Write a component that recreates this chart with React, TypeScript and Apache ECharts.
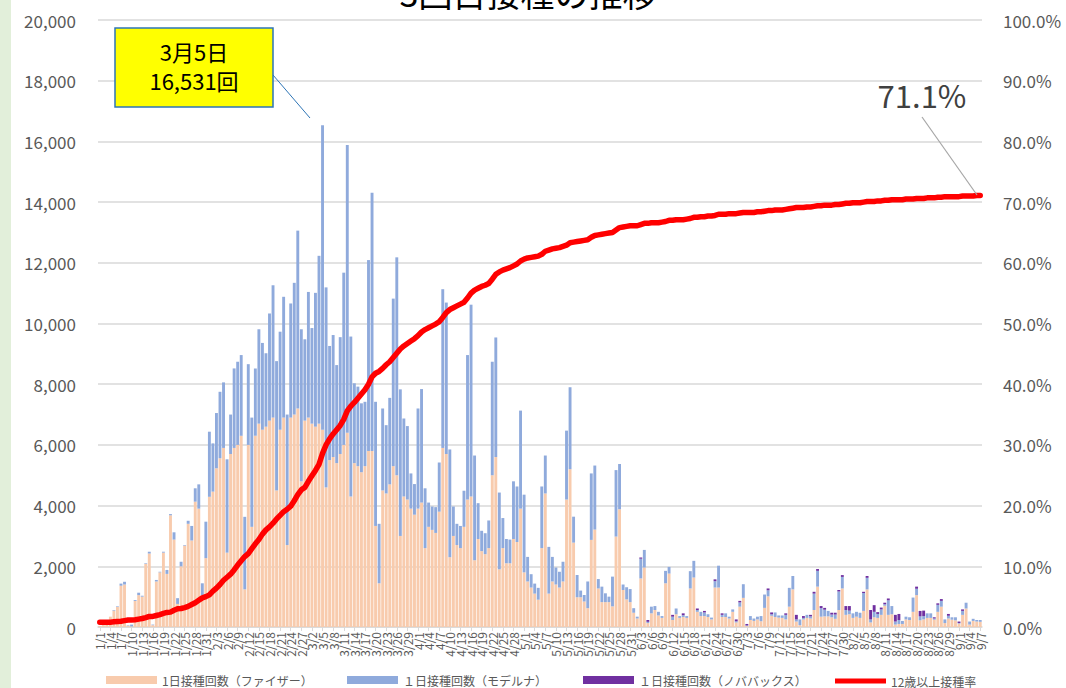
import React, { useEffect, useRef } from "react";
import * as echarts from "echarts";

const FONT = '"Noto Sans CJK JP", "Noto Sans", sans-serif';

// Month lengths from 1/1 to 9/7
const MONTH_DAYS = [31, 28, 31, 30, 31, 30, 31, 31, 7];
const categories: string[] = [];
MONTH_DAYS.forEach((n, m) => {
  for (let d = 1; d <= n; d++) categories.push(`${m + 1}/${d}`);
});

const SERIES_NAMES = [
  "1日接種回数（ファイザー）",
  "１日接種回数（モデルナ）",
  "１日接種回数（ノババックス）",
  "12歳以上接種率",
];

const pfizer = [
  30, 60, 150, 340, 540, 660, 1360, 1400, 40, 20,
  860, 1050, 1000, 2080, 2420, 60, 1500, 1800, 2450, 1750,
  3680, 2880, 760, 2000, 2680, 3400, 2850, 4130, 3900, 1050,
  2270, 4290, 4460, 5230, 5560, 5900, 2450, 5700, 5900, 6000,
  6300, 1240, 6000, 3300, 6300, 6700, 6500, 6600, 6800, 6900,
  4500, 6500, 6900, 2700, 6900, 7000, 7200, 4800, 6800, 6900,
  6700, 6600, 6700, 6500, 4600, 5500, 5600, 5400, 5700, 6000,
  6400, 4300, 5400, 5300, 5100, 5300, 5800, 5800, 3330, 1440,
  4500, 4400, 4700, 5300, 5000, 3000, 4300, 4200, 3900, 3700,
  3900, 4100, 2600, 3300, 3200, 3100, 3800, 5900, 5700, 2300,
  3000, 2700, 2600, 3300, 4200, 4300, 2200, 2900, 2500, 2400,
  2600, 5000, 5600, 1900, 2600, 2100, 2100, 2900, 2800, 3900,
  1800, 1500, 1300, 1100, 900, 2600, 4400, 1100, 1500, 1400,
  1300, 1500, 4200, 5200, 2780, 980, 980, 840, 620, 2870,
  3210, 1270, 820, 820, 820, 680, 2980, 3880, 1220, 910,
  820, 470, 280, 1600, 1960, 130, 450, 560, 380, 300,
  1440, 1760, 230, 420, 300, 330, 300, 1270, 1630, 500,
  360, 360, 330, 250, 1300, 1300, 330, 330, 280, 500,
  150, 670, 960, 30, 230, 200, 250, 190, 630, 1010,
  370, 330, 310, 300, 250, 670, 1240, 180, 60, 250,
  300, 280, 560, 1330, 340, 350, 350, 320, 270, 560,
  1270, 400, 420, 300, 340, 300, 530, 1240, 150, 320,
  300, 400, 700, 400, 420, 80, 100, 100, 250, 230,
  500, 1050, 220, 250, 300, 300, 240, 500, 670, 130,
  280, 240, 220, 110, 400, 610, 80, 200, 180, 170,
];

const moderna = [
  0, 0, 0, 0, 20, 20, 70, 90, 20, 60,
  30, 80, 30, 20, 60, 20, 50, 20, 30, 130,
  40, 240, 190, 150, 20, 100, 480, 440, 800, 390,
  1200, 2145, 1590, 1820, 2190, 2160, 3075, 1300, 2620, 2740,
  2660, 2390, 2660, 3600, 2220, 3110, 2860, 2420, 3530, 4360,
  4260, 3230, 3980, 4300, 3760, 4340, 5860, 5010, 2680, 4140,
  3150, 4410, 5530, 10031, 6590, 3760, 4020, 3230, 3850, 5675,
  9480, 5270, 2630, 2620, 2270, 2120, 6290, 8510, 4090, 1960,
  2700, 2250, 2850, 5520, 7180, 4830, 2570, 2420, 1160, 1010,
  3300, 3740, 1970, 800, 770, 850, 1620, 5230, 4990, 3550,
  970, 700, 730, 1190, 4760, 6320, 3450, 1180, 670, 690,
  910, 3740, 3940, 2530, 990, 800, 780, 1900, 1830, 3230,
  2560, 810, 440, 330, 390, 2030, 1250, 1540, 810, 560,
  520, 650, 2270, 2700, 855, 733, 220, 215, 880, 2190,
  2110, 310, 510, 290, 180, 980, 2190, 1490, 180, 400,
  430, 150, 60, 650, 580, 40, 220, 130, 120, 60,
  410, 220, 110, 190, 60, 60, 60, 570, 550, 60,
  140, 120, 90, 60, 210, 720, 70, 120, 60, 80,
  40, 140, 450, 20, 130, 80, 90, 170, 440, 200,
  50, 150, 70, 80, 150, 620, 440, 70, 190, 50,
  100, 70, 540, 520, 280, 220, 180, 90, 140, 610,
  380, 160, 120, 150, 160, 170, 590, 380, 100, 180,
  130, 180, 50, 480, 270, 100, 130, 100, 90, 90,
  470, 210, 130, 110, 150, 150, 40, 230, 190, 120,
  90, 80, 100, 20, 130, 190, 100, 70, 50, 60,
];

const novavax = [
  0, 0, 0, 0, 0, 0, 0, 0, 0, 0,
  0, 0, 0, 0, 0, 0, 0, 0, 0, 0,
  0, 0, 0, 0, 0, 0, 0, 0, 0, 0,
  0, 0, 0, 0, 0, 0, 0, 0, 0, 0,
  0, 0, 0, 0, 0, 0, 0, 0, 0, 0,
  0, 0, 0, 0, 0, 0, 0, 0, 0, 0,
  0, 0, 0, 0, 0, 0, 0, 0, 0, 0,
  0, 0, 0, 0, 0, 0, 0, 0, 0, 0,
  0, 0, 0, 0, 0, 0, 0, 0, 0, 0,
  0, 0, 0, 0, 0, 0, 0, 0, 0, 0,
  0, 0, 0, 0, 0, 0, 0, 0, 0, 0,
  0, 0, 0, 0, 0, 0, 0, 0, 0, 0,
  0, 0, 0, 0, 0, 0, 0, 0, 0, 0,
  0, 0, 0, 0, 0, 0, 0, 0, 0, 0,
  0, 0, 0, 0, 0, 0, 0, 0, 0, 0,
  0, 0, 0, 40, 0, 60, 0, 0, 0, 0,
  0, 0, 60, 0, 0, 60, 0, 0, 0, 50,
  0, 50, 0, 0, 60, 0, 50, 0, 0, 0,
  60, 50, 0, 50, 0, 0, 0, 0, 0, 60,
  60, 0, 0, 0, 50, 0, 0, 150, 0, 60,
  0, 50, 60, 60, 70, 60, 0, 60, 60, 50,
  60, 130, 150, 0, 0, 0, 40, 60, 310, 220,
  60, 60, 50, 60, 0, 220, 200, 0, 0, 0,
  0, 70, 180, 180, 0, 0, 40, 50, 60, 0,
  60, 0, 0, 50, 50, 0, 0, 0, 0, 0,
];

// cumulative 3rd-dose rate, % of population aged 12+
const rate = [
  0.8, 0.8, 0.8, 0.8, 0.85, 0.9, 0.95, 1.05, 1.15, 1.15,
  1.2, 1.3, 1.4, 1.55, 1.75, 1.75, 1.9, 2.05, 2.25, 2.4,
  2.45, 2.75, 3.0, 3.05, 3.2, 3.4, 3.7, 4.0, 4.4, 4.8,
  5.0, 5.3, 5.9, 6.4, 7.0, 7.7, 8.2, 8.7, 9.4, 10.2,
  10.9, 11.6, 12.1, 12.9, 13.7, 14.4, 15.3, 16.0, 16.5, 17.1,
  17.8, 18.4, 19.0, 19.4, 19.9, 20.8, 21.8, 22.6, 23.0, 24.0,
  24.9, 25.8, 26.8, 28.6, 30.0, 31.0, 31.8, 32.5, 33.2, 34.2,
  35.6, 36.4, 37.0, 37.7, 38.4, 39.1, 40.0, 41.2, 41.8, 42.1,
  42.6, 43.2, 43.7, 44.4, 45.1, 45.8, 46.3, 46.7, 47.1, 47.5,
  48.0, 48.6, 49.0, 49.3, 49.6, 49.9, 50.3, 51.0, 51.8, 52.3,
  52.6, 52.9, 53.2, 53.5, 54.2, 55.0, 55.5, 55.8, 56.1, 56.3,
  56.6, 57.3, 58.1, 58.5, 58.8, 59.0, 59.2, 59.5, 59.8, 60.3,
  60.6, 60.8, 60.9, 61.0, 61.1, 61.4, 61.9, 62.1, 62.3, 62.4,
  62.5, 62.7, 62.9, 63.3, 63.4, 63.5, 63.6, 63.7, 63.8, 64.2,
  64.5, 64.6, 64.7, 64.8, 64.9, 65.0, 65.4, 65.8, 65.9, 66.0,
  66.1, 66.1, 66.1, 66.3, 66.5, 66.5, 66.6, 66.6, 66.6, 66.7,
  66.8, 67.0, 67.0, 67.1, 67.1, 67.1, 67.2, 67.3, 67.5, 67.5,
  67.6, 67.6, 67.7, 67.7, 67.8, 68.0, 68.0, 68.0, 68.1, 68.1,
  68.1, 68.2, 68.3, 68.3, 68.3, 68.3, 68.4, 68.4, 68.5, 68.6,
  68.6, 68.7, 68.7, 68.7, 68.8, 68.9, 69.0, 69.1, 69.1, 69.1,
  69.2, 69.2, 69.3, 69.4, 69.4, 69.5, 69.5, 69.5, 69.6, 69.6,
  69.7, 69.8, 69.8, 69.9, 69.9, 69.9, 70.0, 70.1, 70.1, 70.1,
  70.2, 70.2, 70.3, 70.3, 70.4, 70.4, 70.4, 70.4, 70.5, 70.5,
  70.5, 70.6, 70.6, 70.6, 70.7, 70.7, 70.7, 70.8, 70.8, 70.9,
  70.9, 70.9, 70.9, 70.9, 71.0, 71.0, 71.0, 71.0, 71.1, 71.1,
];

const COLORS = ["#f8cbad", "#8faadc", "#7030a0", "#ff0000"];
const LABEL_STEP = 3;

export default function App() {
  const ref = useRef<HTMLDivElement>(null);

  useEffect(() => {
    if (!ref.current) return;
    const chart = echarts.init(ref.current, undefined, { renderer: "svg" });

    const legendBase = {
      top: 674,
      padding: 0,
      itemGap: 0,
      itemWidth: 51,
      itemHeight: 8,
      icon: "rect",
      textStyle: { fontSize: 12, color: "#595959", fontFamily: FONT },
    };

    chart.setOption({
      animation: false,
      backgroundColor: "#ffffff",
      textStyle: { fontFamily: FONT },
      grid: { left: 98, right: 84, top: 20, bottom: 61, containLabel: false },
      legend: [
        { ...legendBase, left: 106, data: [SERIES_NAMES[0]] },
        { ...legendBase, left: 347, data: [SERIES_NAMES[1]] },
        { ...legendBase, left: 583, data: [SERIES_NAMES[2]] },
        { ...legendBase, left: 835, itemHeight: 5, top: 675, data: [SERIES_NAMES[3]] },
      ],
      xAxis: {
        type: "category",
        data: categories,
        axisLine: { lineStyle: { color: "#d9d9d9", width: 1.5 } },
        axisTick: {
          show: true,
          interval: LABEL_STEP - 1,
          length: 4,
          alignWithLabel: true,
          lineStyle: { color: "#d9d9d9" },
        },
        axisLabel: {
          interval: 0,
          rotate: 90,
          fontSize: 12,
          color: "#595959",
          margin: 5,
          hideOverlap: false,
          fontFamily: FONT,
          formatter: (v: string, i: number) => (i % LABEL_STEP === 0 ? v : ""),
        },
      },
      yAxis: [
        {
          type: "value",
          min: 0,
          max: 20000,
          interval: 2000,
          axisLine: { show: false },
          axisTick: { show: false },
          splitLine: { lineStyle: { color: "#d9d9d9", width: 1.5 } },
          axisLabel: {
            fontSize: 17,
            color: "#595959",
            margin: 22,
            fontFamily: FONT,
            formatter: (v: number) => v.toLocaleString("en-US"),
          },
        },
        {
          type: "value",
          min: 0,
          max: 100,
          interval: 10,
          position: "right",
          axisLine: { show: false },
          axisTick: { show: false },
          splitLine: { show: false },
          axisLabel: {
            fontSize: 17,
            color: "#595959",
            margin: 21,
            fontFamily: FONT,
            formatter: (v: number) => v.toFixed(1) + "%",
          },
        },
      ],
      series: [
        {
          name: SERIES_NAMES[0],
          type: "bar",
          stack: "doses",
          data: pfizer,
          barCategoryGap: "18%",
          itemStyle: { color: COLORS[0] },
        },
        {
          name: SERIES_NAMES[1],
          type: "bar",
          stack: "doses",
          data: moderna,
          barCategoryGap: "18%",
          itemStyle: { color: COLORS[1] },
        },
        {
          name: SERIES_NAMES[2],
          type: "bar",
          stack: "doses",
          data: novavax,
          barCategoryGap: "18%",
          itemStyle: { color: COLORS[2] },
        },
        {
          name: SERIES_NAMES[3],
          type: "line",
          yAxisIndex: 1,
          data: rate,
          symbol: "none",
          z: 10,
          itemStyle: { color: COLORS[3] },
          lineStyle: { color: COLORS[3], width: 5.5, cap: "round", join: "round" },
        },
      ],
      graphic: [
        {
          type: "rect",
          left: 0,
          top: 0,
          shape: { width: 11, height: 688 },
          style: { fill: "#e2efda" },
          silent: true,
        },
        {
          type: "text",
          x: 528,
          y: -25,
          style: {
            text: "3回目接種の推移",
            fontSize: 34,
            fill: "#000000",
            textAlign: "center",
            textVerticalAlign: "top",
            fontFamily: FONT,
          },
        },
        {
          type: "line",
          shape: { x1: 273, y1: 75, x2: 310, y2: 118 },
          style: { stroke: "#2e75b6", lineWidth: 1 },
          z: 20,
        },
        {
          type: "rect",
          shape: { x: 115, y: 28, width: 158, height: 79 },
          style: { fill: "#ffff00", stroke: "#2e75b6", lineWidth: 1.5 },
          z: 20,
        },
        {
          type: "text",
          x: 194,
          y: 51,
          z: 21,
          style: {
            text: "3月5日",
            fontSize: 22,
            lineHeight: 22,
            fill: "#000000",
            textAlign: "center",
            textVerticalAlign: "middle",
            fontFamily: FONT,
          },
        },
        {
          type: "text",
          x: 194,
          y: 80,
          z: 21,
          style: {
            text: "16,531回",
            fontSize: 22,
            lineHeight: 22,
            fill: "#000000",
            textAlign: "center",
            textVerticalAlign: "middle",
            fontFamily: FONT,
          },
        },
        {
          type: "line",
          shape: { x1: 922, y1: 117, x2: 977, y2: 195 },
          style: { stroke: "#a6a6a6", lineWidth: 1.2 },
          z: 20,
        },
        {
          type: "text",
          x: 922,
          y: 94,
          z: 21,
          style: {
            text: "71.1%",
            fontSize: 31,
            fill: "#404040",
            textAlign: "center",
            textVerticalAlign: "middle",
            fontFamily: FONT,
          },
        },
      ],
    });

    return () => chart.dispose();
  }, []);

  return (
    <div
      ref={ref}
      style={{ position: "fixed", left: 0, top: 0, width: 1066, height: 688, background: "#fff" }}
    />
  );
}
